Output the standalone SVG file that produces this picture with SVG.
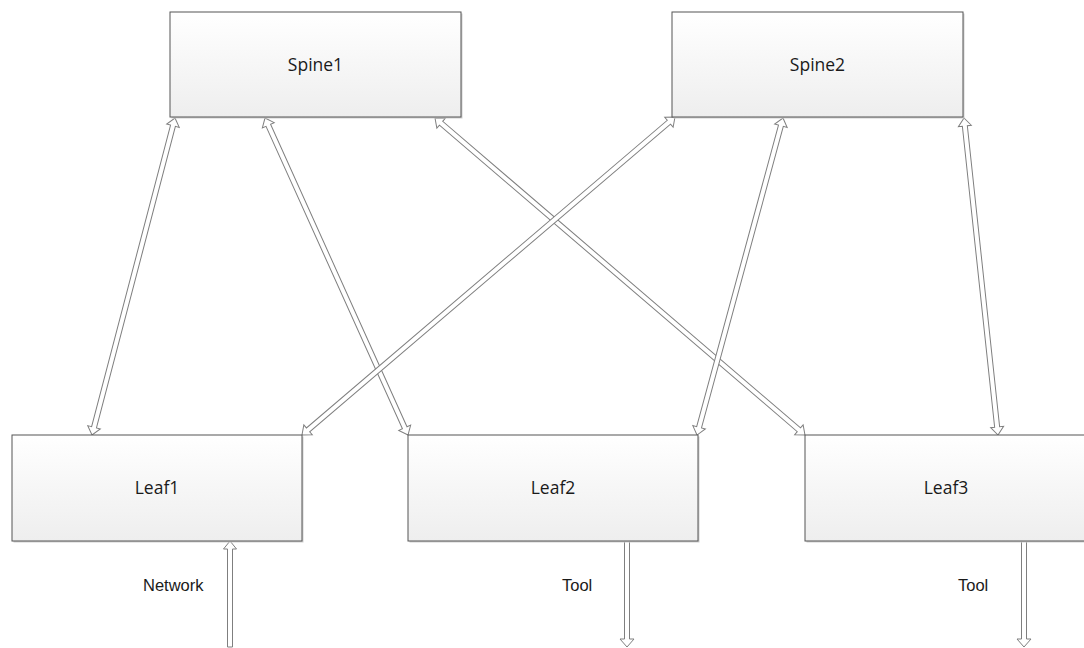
<svg xmlns="http://www.w3.org/2000/svg" width="1084" height="648" viewBox="0 0 1084 648">
  <defs>
    <linearGradient id="boxfill" x1="0" y1="0" x2="0" y2="1">
      <stop offset="0" stop-color="#ffffff"/>
      <stop offset="1" stop-color="#eeeeee"/>
    </linearGradient>
  </defs>
  <style>
    .box { fill: url(#boxfill); stroke: #555555; stroke-width: 1; }
    .shadow { fill: #d0d0d0; }
    .label { font-family: "Open Sans", "Noto Sans", sans-serif; font-size: 17.5px; fill: #1a1a1a; text-anchor: middle; }
    .note { font-family: "Liberation Sans", Arial, sans-serif; font-size: 16.5px; fill: #1a1a1a; }
    .arrow { fill: #ffffff; stroke: #7f7f7f; stroke-width: 1; stroke-linejoin: miter; }
  </style>
  <rect width="1084" height="648" fill="#ffffff"/>

  <g id="connectors">
    <g transform="translate(175,118) rotate(104.67)">
      <polygon class="arrow" points="0,0 8,-6.5 8,-2.5 319.7,-2.5 319.7,-6.5 327.7,0 319.7,6.5 319.7,2.5 8,2.5 8,6.5"/>
    </g>
    <g transform="translate(265,118) rotate(65.72)">
      <polygon class="arrow" points="0,0 8,-6.5 8,-2.5 339.8,-2.5 339.8,-6.5 347.8,0 339.8,6.5 339.8,2.5 8,2.5 8,6.5"/>
    </g>
    <g transform="translate(435,118) rotate(40.59)">
      <polygon class="arrow" points="0,0 8,-6.5 8,-2.5 479.2,-2.5 479.2,-6.5 487.2,0 479.2,6.5 479.2,2.5 8,2.5 8,6.5"/>
    </g>
    <g transform="translate(675,117) rotate(139.55)">
      <polygon class="arrow" points="0,0 8,-6.5 8,-2.5 482.2,-2.5 482.2,-6.5 490.2,0 482.2,6.5 482.2,2.5 8,2.5 8,6.5"/>
    </g>
    <g transform="translate(783,118) rotate(105.18)">
      <polygon class="arrow" points="0,0 8,-6.5 8,-2.5 320.5,-2.5 320.5,-6.5 328.5,0 320.5,6.5 320.5,2.5 8,2.5 8,6.5"/>
    </g>
    <g transform="translate(964,118) rotate(83.88)">
      <polygon class="arrow" points="0,0 8,-6.5 8,-2.5 310.8,-2.5 310.8,-6.5 318.8,0 310.8,6.5 310.8,2.5 8,2.5 8,6.5"/>
    </g>
    <!-- Network in -->
    <polygon class="arrow" points="230,541 236.5,549 232.5,549 232.5,647 227.5,647 227.5,549 223.5,549"/>
    <!-- Tool out Leaf2 -->
    <polygon class="arrow" points="624.5,541 629.5,541 629.5,639 634,639 627,647 620,639 624.5,639"/>
    <!-- Tool out Leaf3 -->
    <polygon class="arrow" points="1021.5,541 1026.5,541 1026.5,639 1031,639 1024,647 1017,639 1021.5,639"/>
  </g>

  <g id="spine1">
    <rect class="shadow" x="171.5" y="13.5" width="291" height="105"/>
    <rect class="box" x="170" y="12" width="291" height="105"/>
    <text class="label" x="315.5" y="71">Spine1</text>
  </g>
  <g id="spine2">
    <rect class="shadow" x="673.5" y="13.5" width="291" height="105"/>
    <rect class="box" x="672" y="12" width="291" height="105"/>
    <text class="label" x="817.5" y="71">Spine2</text>
  </g>
  <g id="leaf1">
    <rect class="shadow" x="13.5" y="436.5" width="290" height="106"/>
    <rect class="box" x="12" y="435" width="290" height="106"/>
    <text class="label" x="157" y="494">Leaf1</text>
  </g>
  <g id="leaf2">
    <rect class="shadow" x="409.5" y="436.5" width="290" height="106"/>
    <rect class="box" x="408" y="435" width="290" height="106"/>
    <text class="label" x="553" y="494">Leaf2</text>
  </g>
  <g id="leaf3">
    <rect class="shadow" x="806.5" y="436.5" width="290" height="106"/>
    <rect class="box" x="805" y="435" width="290" height="106"/>
    <text class="label" x="946" y="494">Leaf3</text>
  </g>

  <text class="note" x="143" y="591">Network</text>
  <text class="note" x="562" y="591">Tool</text>
  <text class="note" x="958" y="591">Tool</text>
</svg>
